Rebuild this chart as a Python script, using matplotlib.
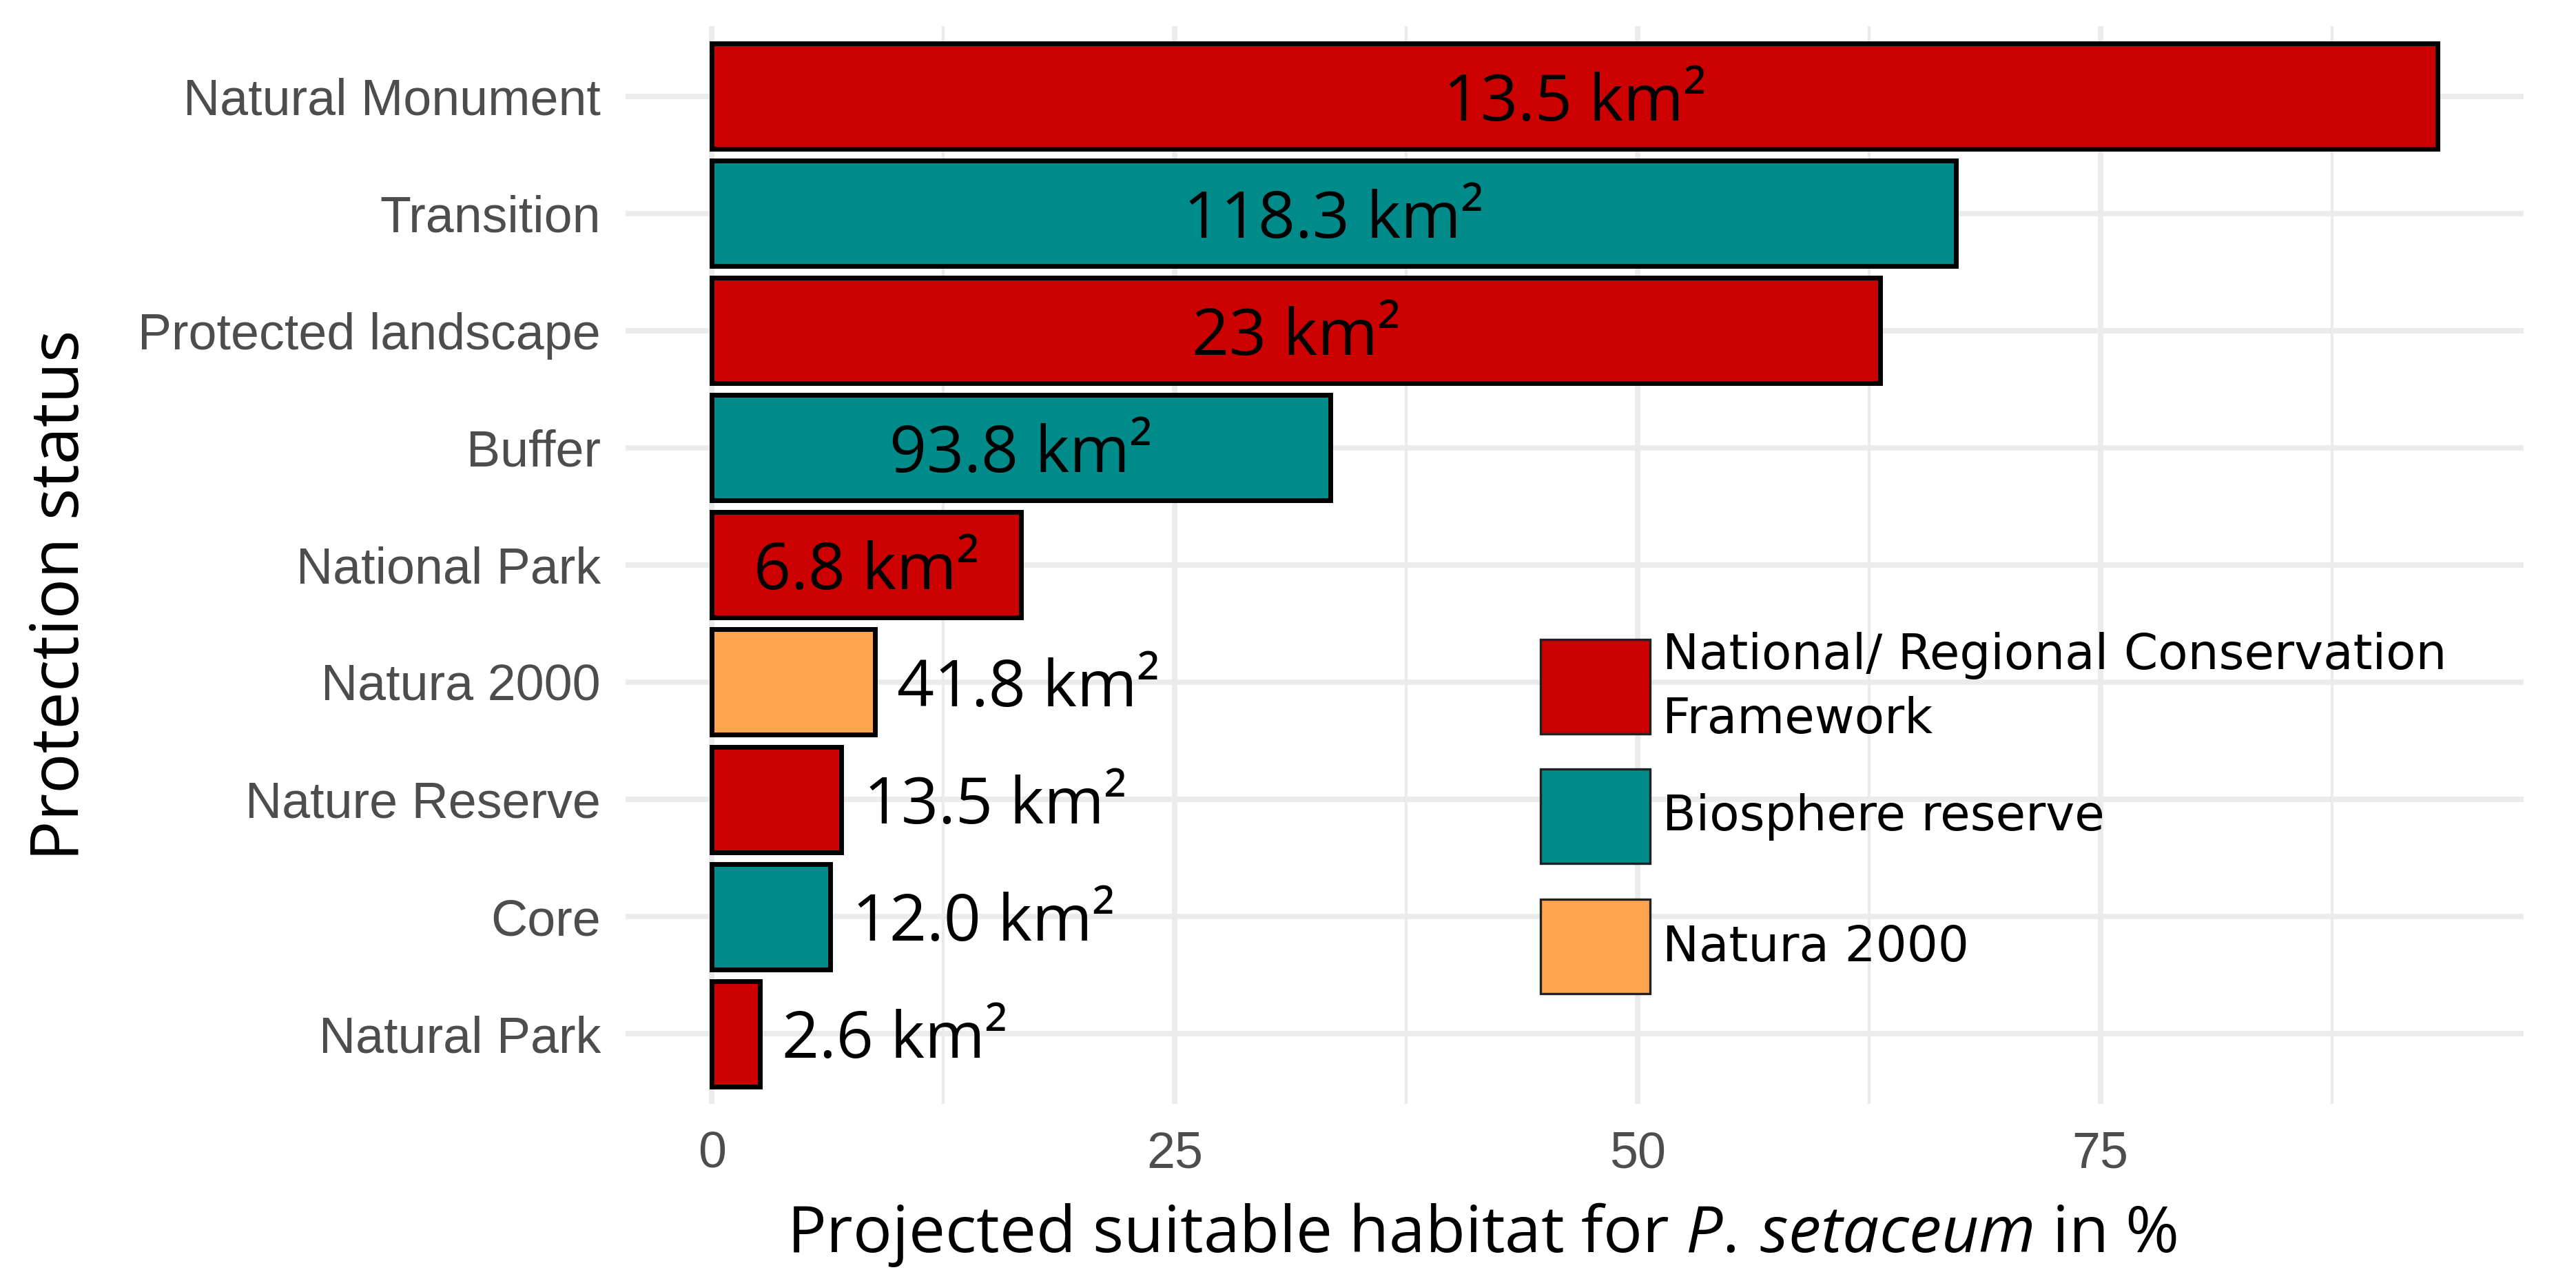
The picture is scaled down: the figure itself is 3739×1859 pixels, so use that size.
import matplotlib
matplotlib.use('Agg')
import matplotlib.pyplot as plt
from matplotlib.patches import Rectangle
from matplotlib.ticker import MultipleLocator

# data, top to bottom
status = ['Natural Monument', 'Transition', 'Protected landscape', 'Buffer',
          'National Park', 'Natura 2000', 'Nature Reserve', 'Core', 'Natural Park']
habitat_pct = [93.2, 67.2, 63.1, 33.4, 16.7, 8.8, 7.0, 6.4, 2.6]
area_km2 = ['13.5', '118.3', '23', '93.8', '6.8', '41.8', '13.5', '12.0', '2.6']
framework = ['nat', 'bio', 'nat', 'bio', 'nat', 'n2k', 'nat', 'bio', 'nat']

fw_names = {'nat': 'National/ Regional Conservation\nFramework',
            'bio': 'Biosphere reserve',
            'n2k': 'Natura 2000'}
fw_colors = {'nat': '#CC0000', 'bio': '#008B8B', 'n2k': '#FFA54F'}

plt.rcParams['mathtext.fontset'] = 'custom'
plt.rcParams['mathtext.rm'] = 'Open Sans'
plt.rcParams['mathtext.it'] = 'Open Sans:italic'

W, H, DPI = 3739, 1859, 200
fig = plt.figure(figsize=(W/DPI, H/DPI), dpi=DPI)
ax = fig.add_axes([908/W, 1-1602/H, (3663-908)/W, (1602-38)/H])

ypos = list(range(len(status)))[::-1]
cols = [fw_colors[f] for f in framework]
ax.barh(ypos, habitat_pct, height=0.9, color=cols, edgecolor='black',
        linewidth=2.5, zorder=3)

for y, v, a in zip(ypos, habitat_pct, area_km2):
    lab = a + ' km²'
    if v > 15:
        ax.text(v/2, y, lab, ha='center', va='center_baseline', fontsize=34,
                family='Open Sans', color='black', zorder=4)
    else:
        ax.text(v + 1.2, y, lab, ha='left', va='center_baseline', fontsize=34,
                family='Open Sans', color='black', zorder=4)

vmax = max(habitat_pct)
ax.set_xlim(-0.05*vmax, 1.05*vmax)
ax.set_ylim(-0.6, len(status) - 0.4)
ax.set_yticks(ypos)
ax.set_yticklabels(status)
ax.xaxis.set_major_locator(MultipleLocator(25))
ax.xaxis.set_minor_locator(MultipleLocator(12.5))
ax.set_xticks([0, 25, 50, 75])

for lab in ax.get_xticklabels() + ax.get_yticklabels():
    lab.set_family('Liberation Sans')
    lab.set_fontsize(26.5)
    lab.set_color('#4D4D4D')
ax.tick_params(axis='both', which='both', length=0)
ax.tick_params(axis='y', pad=13)
ax.tick_params(axis='x', pad=14)

ax.grid(True, which='major', color='#EBEBEB', linewidth=2.8)
ax.grid(True, which='minor', axis='x', color='#EBEBEB', linewidth=1.5)
ax.set_axisbelow(True)
for s in ax.spines.values():
    s.set_visible(False)

# axis titles
fig.text(2151/W, 1-1817/H, r'Projected suitable habitat for $\mathit{P.\,setaceum}$ in %',
         ha='center', va='baseline', fontsize=34, family='Open Sans')
fig.text(89/W, 1-864/H, 'Protection status', rotation=90, ha='center', va='center',
         fontsize=35, family='Open Sans')

# legend
key_top = [928, 1116, 1305]
for k, top in zip(['nat', 'bio', 'n2k'], key_top):
    fig.add_artist(Rectangle((2236/W, 1-(top+137)/H), 159/W, 137/H,
                             transform=fig.transFigure, facecolor=fw_colors[k],
                             edgecolor='#222222', linewidth=1.2))
    fig.text(2413/W, 1-(top+70)/H, fw_names[k], ha='left', va='center',
             fontsize=25.5, family='DejaVu Sans', linespacing=1.45)

fig.savefig('out.png', dpi=DPI)
